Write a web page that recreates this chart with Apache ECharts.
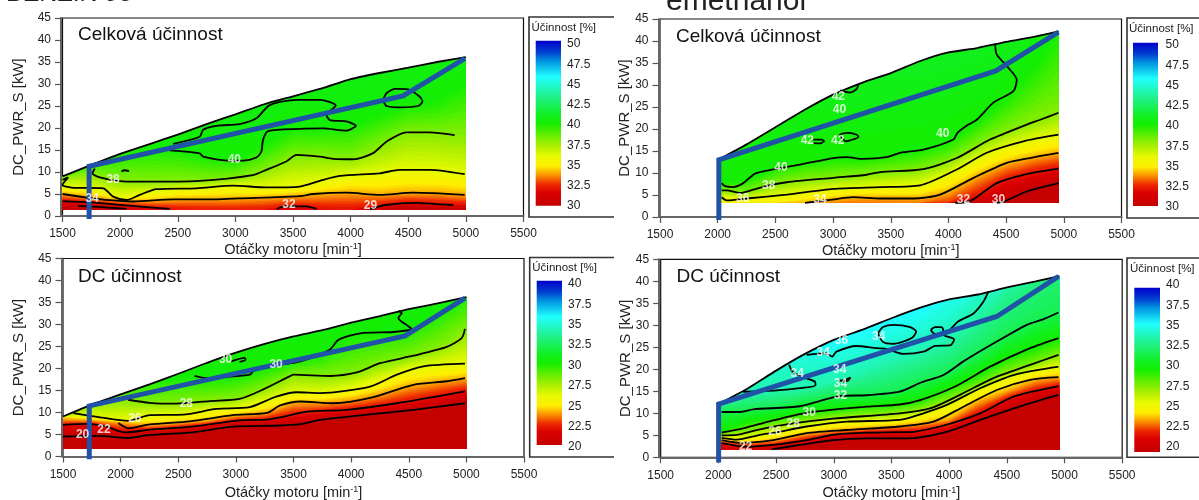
<!DOCTYPE html>
<html><head><meta charset="utf-8">
<style>html,body{margin:0;padding:0;background:#fff}#c{width:1199px;height:500px}</style>
<script src="https://cdn.jsdelivr.net/npm/echarts@6/dist/echarts.min.js"></script>
</head><body><div id="c"></div>
<script>
// ---------- shared tick values ----------
const rpmTicks = [1500,2000,2500,3000,3500,4000,4500,5000,5500];
const powerTicks = [0,5,10,15,20,25,30,35,40,45];
const title1 = 'Celková účinnost', title2 = 'DC účinnost';

// ---------- top-left: total efficiency, gasoline ----------
const tlRpm = [1500,1750,2000,2250,2500,2750,3000,3250,3500,3750,4000,4250,4500,4750,5000];
const tlEnvelope = [9,11.6,14.1,16.3,18.5,20.9,23.1,25.4,27.2,29,31.1,32.5,33.7,35,36.1];
const tlLevels = [30,32,34,36,38,40,42];
const tlFill30 = [1.9,1.4,0.8,0.4,0,0,0,0,0.7,0.2,0,0.8,1.8,1.5,1.6];
const tlFill32 = [3.4,2.9,2.3,1.9,1.5,1.2,1.2,1.3,2.2,1.7,1.5,2.3,3,2.7,2.5];
const tlFill34 = [5,4.4,3.6,3.4,3.7,3.9,3.9,4.2,4.5,4.9,5.3,4.9,5.2,5.2,4.8];
const tlFill36 = [6.8,6.4,4.3,5.2,6.2,6.4,6.9,6.5,6.9,7.7,9.2,9.7,10.5,10.3,9.5];
const tlFill38 = [9,9.7,8.1,7.8,7.9,8,8.6,10.4,13.5,13.5,13,16,19,18.7,18.3];
const tlFill40 = [11,13,14.5,15.5,15,13.5,12.6,16,19.8,19.9,20.5,23,25,26,30];
const tlFill42 = [60,60,60,60,60,60,60,60,60,60,60,60,60,60,60];
const tlBlue = [[1731,-0.7],[1731,11.3],[4455,27.3],[4993,35.8]];
const tlLines = [
 [[1500,8.2],[1549,8.8],[1500,7.05],[1578,6.44],[1853,6.3],[1939,4.4],[2055,3.64],[2170,4.8],[2315,6.1],[2662,6.3],[2980,6.9],[3269,6.5],[3559,6.7],[3733,8],[3906,9.1],[4253,9.7],[4426,10.5],[4686,10.5],[4990,9.5]],
 [[1500,5],[1708,4.2],[1910,3.6],[2113,3.3],[2459,3.8],[2835,3.8],[3037,4],[3558,4.5],[3675,5],[3964,5.3],[4253,4.8],[4542,5.3],[4990,4.8]],
 [[1500,3.4],[1750,3.1],[2055,2.4],[2430,1.6]],
 [[1636,2.3],[1850,2],[2055,1.6]],
 [[3361,1.6],[3420,2.2],[3500,2.2],[3620,2.2],[3704,1.6]],
 [[4166,1.5],[4300,2.5],[4571,3],[4750,2.7],[4889,2.5]],
 [[1780,10.8],[1760,9.7],[1824,8.8],[1983,8],[2170,7.8],[2690,8],[3153,9.3],[3269,10.5],[3442,12.4],[3530,13.9],[3732,13.5],[3848,13],[4022,12.9],[4195,14.3],[4311,16.9],[4484,19],[4686,19],[4903,18.4]],
 [[2011,10.1],[2040,10.4],[2078,10.2]],
 [[2430,14.9],[2690,14.25],[2720,13.5],[2950,12.6],[3066,12.6],[3182,13.3],[3225,14.6],[3240,17.3],[3283,19.3],[3558,19.8],[3762,19.9],[3964,19.4],[4045,20.5],[3964,21.5],[3820,21.8],[3791,22.95],[3871,25.1],[3733,26.4],[3530,26.4],[3298,25.2],[3182,22.2],[3037,20.9],[2835,20.5],[2720,19.6],[2690,18],[2460,16.4]],
 [[4282,26.4],[4311,27.9],[4383,28.9],[4499,28.8],[4600,27.1],[4623,26],[4585,25],[4426,24.7],[4311,25],[4282,26.4]]
];
const tlLabels = [[2991,12.7,'40'],[1939,8.2,'38'],[1757,4,'34'],[3465,2.5,'32'],[4172,2.4,'29']];

// ---------- top-right: total efficiency, e-methanol ----------
const trRpm = [2006,2250,2500,2750,3000,3250,3500,3750,4000,4250,4500,4750,4954];
const trEnvelope = [13,16.5,20.4,24.3,27.8,30.5,32.7,35.4,37.4,38.4,39.8,41,42.2];
const trLevels = [30,32,34,36,38,40,42];
const trFill30 = [0,0,0,0,0,0,0,0,0,2,3.4,6,7.7];
const trFill32 = [0,0,0,0,0,0,0,0,2,4.6,8.3,10,11];
const trFill34 = [1,1.5,2,3.1,3.9,4.5,4.3,4.2,5.5,9.2,12,13.6,14.55];
const trFill36 = [4.5,4.2,4.8,5.5,6.4,6.7,7,7.2,9.8,13.2,16,17.5,18.7];
const trFill38 = [6.1,5.5,7.5,8.5,8.9,9.5,10.1,10.8,12.6,16.5,19.5,22,23.7];
const trFill40 = [7.7,8.5,11.3,12.5,13.4,13.2,14.2,15.1,17,21.5,27,34,42];
const trFill42 = [60,60,60,60,60,60,60,60,60,60,60,70,80];
const trBlue = [[2010,-0.7],[2010,13],[4410,33.2],[4954,42]];
const trLines = [
 [[3061,28.8],[3147,28.3],[3205,29.1],[3220,30.3]],
 [[2829,17.6],[2902,17.6],[2922,17.2],[2887,16.75],[2829,16.8]],
 [[3104,17.2],[3061,18.7],[3133,19.1],[3205,18.7],[3220,18.2],[3147,17.4],[3104,17.2]],
 [[2035,7.7],[2064,7],[2136,6.8],[2222,7.7],[2324,9.85],[2483,10.8],[2714,11.9],[3003,13.4],[3118,13.6],[3263,13.2],[3465,13.6],[3581,14.6],[3783,15.3],[4043,17.6],[4078,19.1],[4173,21],[4246,22.1],[4390,26],[4563,28.6],[4592,31.2],[4520,33.9],[4419,36.9],[4405,39.2]],
 [[2035,6.06],[2078,6.06],[2194,5.46],[2309,6.2],[2425,7.1],[2598,7.9],[3003,8.9],[3292,9.6],[3408,10.2],[3783,10.9],[4072,13.4],[4361,17.6],[4679,21],[4795,22.1],[4954,23.7]],
 [[2035,4.5],[2078,3.8],[2251,4.2],[2598,5.1],[3003,6.4],[3408,6.8],[3754,7.2],[4072,10.8],[4332,14.6],[4650,17.2],[4954,18.7]],
 [[2757,3.2],[2974,3.9],[3176,4.5],[3408,4.2],[3696,4.2],[3928,5.1],[4217,8.9],[4506,12.3],[4708,13.4],[4954,14.55]],
 [[4058,3.2],[4188,3.6],[4419,7.7],[4650,9.6],[4954,11]],
 [[4419,3.2],[4491,3.6],[4679,5.8],[4954,7.7]]
];
const trLabels = [[3046,27.3,'42'],[3055,24.4,'40'],[2777,17.4,'42'],[3040,17.4,'42'],[2549,11.1,'40'],[2442,7.2,'38'],[2217,4.2,'36'],[2887,3.9,'34'],[3951,19,'40'],[4130,3.9,'32'],[4433,3.9,'30']];

// ---------- bottom-left: DC efficiency, gasoline ----------
const blRpm = [1500,1750,2000,2250,2500,2750,3000,3250,3500,3750,4000,4250,4500,4750,5000];
const blEnvelope = [9.1,11.8,14.1,16.4,18.8,21.3,23.6,25.6,27.3,28.7,30.4,31.9,33.5,34.8,36.2];
const blLevels = [20,22,24,26,28,30,32];
const blFill20 = [4.55,4.7,4.3,4.9,5.3,5.7,6.9,7,7.2,8.1,9.2,9.9,10.4,11.2,12.1];
const blFill22 = [7.2,7.4,5.9,6.1,6.6,7.2,8,8.3,9.2,10,10.6,11.3,12.3,13.5,14.8];
const blFill24 = [8.5,8.2,7.7,7.1,7.6,8.1,9.3,9.9,12.2,12.3,12.9,14.2,16,17,17.8];
const blFill26 = [10.2,9,8.3,9.4,9.5,10.5,11,12.5,14.4,14.4,15.5,17.5,20,20.7,21.1];
const blFill28 = [13,12.5,12.9,12.2,12.1,12.8,13.3,15.7,18.6,18.3,19,21,22.5,24.7,29];
const blFill30 = [15.5,15.5,16,17.5,18,17.8,18.2,20,21.5,23.3,27.5,28.1,29,33,37];
const blFill32 = [60,60,60,60,60,60,60,60,60,60,60,60,60,60,60];
const blBlue = [[1728,-0.6],[1728,11.5],[4468,27.4],[4988,36]];
const blLines = [
 [[1500,4.55],[1820,4.7],[2051,4.2],[2253,4.9],[2628,5.5],[2974,6.8],[3384,7.05],[3558,7.35],[3731,8.3],[4136,9.5],[4540,10.6],[4988,12.1]],
 [[1500,7.2],[1705,7.4],[1878,6.8],[1993,5.7],[2051,5.5],[2253,6.1],[2628,6.8],[3032,8.2],[3269,8.4],[3384,8.9],[3616,10.2],[3962,10.6],[4396,12.1],[4988,14.8]],
 [[1980,7.6],[2065,6.4],[2253,7.3],[2600,8],[2974,9.4],[3269,9.9],[3384,11.6],[3558,12.5],[3847,12.1],[4165,13.3],[4540,16.3],[4829,17.1],[4988,17.8]],
 [[1590,9.85],[1820,8.9],[2065,8.1],[2253,9.4],[2541,9.5],[2830,10.8],[3119,11.2],[3350,13.6],[3529,14.6],[3731,14.4],[4165,15.9],[4396,18.6],[4627,20.5],[4988,21.1]],
 [[2065,12.9],[2253,12.2],[2484,12],[2772,12.6],[3032,13.1],[3234,15.2],[3465,18.2],[3500,18.6],[3818,18.3],[4049,19.1],[4251,21.2],[4540,22.9],[4829,24.9],[4959,26.9],[4988,29]],
 [[2642,18.3],[2743,17.8],[2974,18.2],[3119,18.6],[3147,19.3]],
 [[2960,21.6],[3075,22.4],[3084,22],[3032,21.5]],
 [[3436,21],[3558,21.6],[3702,22.9],[3818,24.3],[3890,26.5],[4078,28],[4367,28.3],[4526,29],[4497,29.6],[4410,31.5],[4439,32.6],[4410,33.1]]
];
const blLabels = [[2911,22,'30'],[3349,20.8,'30'],[2570,12.1,'28'],[2123,8.6,'26'],[1855,6.1,'22'],[1670,4.9,'20']];

// ---------- bottom-right: DC efficiency, e-methanol ----------
const brRpm = [2000,2250,2500,2750,3000,3250,3500,3750,4000,4250,4500,4750,4955];
const brEnvelope = [12.1,15.6,19.7,23.5,26.7,29,31.6,34,35.9,37,38.6,40,41.2];
const brLevels = [20,22,24,26,28,30,32,34,36,38];
const brFill20 = [0,0,1.8,2.9,3.9,4.3,4.3,4.3,5.9,8.3,10,12.6,14.2];
const brFill22 = [3.2,2.4,2.9,3.9,5.1,5.6,5.8,5.9,6.9,9.8,13.2,15,16.2];
const brFill24 = [3.9,3.3,3.9,5.3,6,6.6,7,7.7,8.6,12.6,15,17.6,18.2];
const brFill26 = [4.5,4.4,5.6,7,8.2,8.4,8.5,9.5,11.9,15.4,18,19.8,20.6];
const brFill28 = [5.1,6,7.5,8.3,9.3,9.8,10,11,13.2,16,19.4,21.2,23.3];
const brFill30 = [5.6,8,9,10.3,10.8,11.6,12,12.9,16,18.7,22.5,25,27.1];
const brFill32 = [10.3,10.7,11.4,12.9,13.9,14.1,14.7,17,19.1,23,27.5,31,32.9];
const brFill34 = [12.5,14.9,15.2,15.8,17.3,19.5,22,24,27,33,41,49,57];
const brFill36 = [60,60,40,32,29,31,33,36,42,52,62,70,78];
const brFill38 = [90,90,90,90,90,90,90,90,90,90,90,90,90];
const brBlue = [[2002,-1.2],[2002,12.1],[4413,32],[4948,41.1]];
const brLines = [
 [[2461,1.8],[2706,2.8],[2994,3.9],[3283,4.3],[3571,4.3],[3633,4.3],[3980,5.8],[4269,8.5],[4702,12.3],[4948,14.2]],
 [[2028,3.2],[2244,2.4],[2475,2.8],[2765,3.9],[2994,5.1],[3283,5.6],[3571,5.7],[3691,5.8],[3922,7],[4269,10],[4558,13.8],[4948,16.2]],
 [[2028,3.9],[2187,3.3],[2475,3.9],[2765,5.5],[3111,6.2],[3571,7],[3864,8.1],[4124,11.5],[4413,15.3],[4702,17.6],[4948,18.2]],
 [[2028,4.4],[2158,4],[2360,5.1],[2490,5.6],[2765,7],[3111,8.1],[3571,8.5],[3777,10],[3980,11.9],[4269,15.7],[4558,18.7],[4948,20.6]],
 [[2028,5],[2158,5.1],[2331,6.2],[2648,7.7],[2994,8.8],[3571,10],[3835,11.1],[4095,14.2],[4384,18],[4702,21],[4948,23.3]],
 [[2028,5.6],[2086,5.9],[2187,6.4],[2360,7.6],[2475,8.4],[2787,10.2],[3283,11.5],[3571,12],[3749,13],[4052,16.1],[4355,20.6],[4702,24.8],[4948,27.1]],
 [[2028,10.3],[2187,10.3],[2302,10.9],[2706,11.6],[3061,13.95],[3283,14.1],[3571,14.9],[3763,17.05],[3951,18.7],[4124,21.8],[4413,26.3],[4673,30.1],[4818,31.4],[4948,32.9]],
 [[4341,37.7],[4298,35.4],[4211,32.7],[4081,30.9],[3994,28.6],[3951,27.8],[4043,26.8],[4014,25.5],[3879,25.3],[3777,24],[3604,23.5],[3460,24.6],[3370,24.8],[3196,25.3],[3023,24],[2986,22.9],[2937,23.6],[2765,23.3]],
 [[3384,28.2],[3427,29.6],[3517,30.1],[3662,29.6],[3714,28.6],[3676,27.1],[3517,25.8],[3427,26.2],[3384,28.2]],
 [[3841,29],[3879,29.6],[3936,29.6],[3951,28.6],[3907,28],[3864,28.2],[3841,29]],
 [[2614,21],[2642,19.5],[2735,18.2],[2836,17.2],[2842,16.4],[2706,15.7],[2504,15.2],[2215,14.9]],
 [[3038,17.4],[3095,17.6],[3144,18.1],[3124,17.4],[3067,17.2]]
];
const brLabels = [[3067,26.5,'36'],[3390,27.4,'34'],[2908,23.8,'34'],[2683,19,'34'],[3052,19.9,'34'],[3058,16.7,'34'],[3058,14,'32'],[2787,10.2,'30'],[2648,7.7,'28'],[2490,5.8,'26'],[2236,2.4,'22']];

// ---------- colour scale (position on the bar -> colour) ----------
const scaleStops = [[0,'#c40000'],[0.08,'#dc0000'],[0.13,'#ee2a00'],[0.19,'#fb9a00'],[0.24,'#ffee00'],[0.3,'#e8fa00'],[0.37,'#a5ee00'],[0.5,'#14ee00'],[0.55,'#10f020'],[0.65,'#20f080'],[0.78,'#20ffff'],[0.88,'#0090e0'],[0.93,'#0040d0'],[1,'#0000cc']];

function hex(c){return [1,3,5].map(i=>parseInt(c.substr(i,2),16));}
function colorAt(t){
  t=Math.max(0,Math.min(1,t));
  for(let i=1;i<scaleStops.length;i++){
    if(t<=scaleStops[i][0]){
      const a=scaleStops[i-1],b=scaleStops[i],f=(t-a[0])/(b[0]-a[0]);
      const A=hex(a[1]),B=hex(b[1]);
      return 'rgb('+A.map((v,k)=>Math.round(v+(B[k]-v)*f)).join(',')+')';
    }
  }
  return scaleStops[scaleStops.length-1][1];
}

const panels = [
 {name:title1,rpm:tlRpm,env:tlEnvelope,levels:tlLevels,fills:[tlFill30,tlFill32,tlFill34,tlFill36,tlFill38,tlFill40,tlFill42],base:1.5,blue:tlBlue,lines:tlLines,labels:tlLabels,gap:25,ygap:35,
  box:[62.5,18,461,198],scale:[30,50],bar:[535.7,40.7,25.3,165],ticks:[561,44,162],legend:{x:529,top:17,bottom:217,right:614,tx:531.5,ty:28},tx:78,ty:35},
 {name:title1,rpm:trRpm,env:trEnvelope,levels:trLevels,fills:[trFill30,trFill32,trFill34,trFill36,trFill38,trFill40,trFill42],base:3.2,blue:trBlue,lines:trLines,labels:trLabels,gap:25,ygap:26,
  box:[660,19,461.5,198],scale:[30,50],bar:[1133,42.7,25,163.3],ticks:[1159.5,45,162],legend:{x:1127,top:18,bottom:218,right:1199,tx:1129,ty:29},tx:676,ty:37},
 {name:title2,rpm:blRpm,env:blEnvelope,levels:blLevels,fills:[blFill20,blFill22,blFill24,blFill26,blFill28,blFill30,blFill32],base:1.75,blue:blBlue,lines:blLines,labels:blLabels,gap:27,ygap:35,
  box:[63,258.5,461,198],scale:[20,40],bar:[536.7,280.7,25.3,164.3],ticks:[562,284,163],legend:{x:529.7,top:257.5,bottom:457,right:614,tx:532.3,ty:268},tx:78,ty:276.7},
 {name:title2,rpm:brRpm,env:brEnvelope,levels:brLevels,fills:[brFill20,brFill22,brFill24,brFill26,brFill28,brFill30,brFill32,brFill34,brFill36,brFill38],base:1.8,blue:brBlue,lines:brLines,labels:brLabels,gap:27,ygap:26,
  box:[660.7,259.3,461.5,198],scale:[20,40],bar:[1134.3,287.7,25.7,164.3],ticks:[1160,285,162],legend:{x:1127,top:258,bottom:457.3,right:1199,tx:1130,ty:269},tx:676.5,ty:277}
];

const font='"Liberation Sans",Arial,sans-serif';
const plain=v=>String(v);
const grid=[],xAxis=[],yAxis=[],series=[],graphic=[];

function fillRenderer(p){
  return function(params,api){
    const SUB=8, children=[], L=p.levels, lo=p.scale[0], hi=p.scale[1];
    const push=(ys,val)=>{
      const pts=[];
      p.rpm.forEach((r,k)=>pts.push(api.coord([r,Math.max(p.base,Math.min(ys[k],p.env[k]))])));
      for(let k=p.rpm.length-1;k>=0;k--)pts.push(api.coord([p.rpm[k],p.base]));
      children.push({type:'polygon',shape:{points:pts},silent:true,style:{fill:colorAt((val-lo)/(hi-lo))}});
    };
    for(let i=L.length-2;i>=0;i--){
      for(let s=SUB;s>=1;s--){
        const f=s/SUB, g=(s-0.5)/SUB;
        push(p.fills[i].map((v,k)=>v+(p.fills[i+1][k]-v)*f), L[i]+(L[i+1]-L[i])*g);
      }
    }
    push(p.fills[0],L[0]);
    return {type:'group',children};
  };
}

panels.forEach((p,idx)=>{
  const [l,t,w,h]=p.box;
  grid.push({left:l,top:t,width:w,height:h,outerBoundsMode:'none',containLabel:false,show:true,borderColor:'#111',borderWidth:1.2,backgroundColor:'#fff'});
  xAxis.push({type:'value',gridIndex:idx,min:rpmTicks[0],max:rpmTicks[rpmTicks.length-1],interval:500,offset:1.5,
    splitLine:{show:false},axisLine:{lineStyle:{color:'#666',width:2}},axisTick:{length:6,lineStyle:{color:'#555',width:1.2}},
    axisLabel:{color:'#222',fontFamily:font,fontSize:12,margin:10.5,showMinLabel:true,showMaxLabel:true,formatter:plain},
    name:'{a|Otáčky motoru [min}{b|-1}{a|]}',nameLocation:'middle',nameGap:p.gap,nameMoveOverlap:false,
    nameTextStyle:{rich:{a:{fontFamily:font,fontSize:14.5,color:'#222'},b:{fontFamily:font,fontSize:9,color:'#222',verticalAlign:'top'}}}});
  yAxis.push({type:'value',gridIndex:idx,min:powerTicks[0],max:powerTicks[powerTicks.length-1],interval:5,offset:1.5,
    splitLine:{show:false},axisLine:{lineStyle:{color:'#666',width:2}},axisTick:{length:6,lineStyle:{color:'#555',width:1.2}},
    axisLabel:{color:'#222',fontFamily:font,fontSize:12,margin:10,formatter:plain},
    name:'DC_PWR_S [kW]',nameLocation:'middle',nameGap:p.ygap,nameMoveOverlap:false,nameTextStyle:{fontFamily:font,fontSize:15,color:'#222'}});
  series.push({type:'custom',xAxisIndex:idx,yAxisIndex:idx,data:[[p.rpm[0],p.base]],renderItem:fillRenderer(p),silent:true,z:2,clip:true});
  series.push({type:'line',xAxisIndex:idx,yAxisIndex:idx,data:p.rpm.map((r,k)=>[r,p.env[k]]),showSymbol:false,symbol:'none',smooth:0.2,silent:true,z:3,lineStyle:{color:'#000',width:1.8}});
  p.lines.forEach(c=>series.push({type:'line',xAxisIndex:idx,yAxisIndex:idx,data:c,showSymbol:false,symbol:'none',smooth:0.25,silent:true,z:3,lineStyle:{color:'#000',width:1.8}}));
  series.push({type:'line',xAxisIndex:idx,yAxisIndex:idx,data:p.blue,showSymbol:false,symbol:'none',silent:true,clip:false,z:4,lineStyle:{color:'#2052a8',width:5,join:'miter'}});
  series.push({type:'scatter',xAxisIndex:idx,yAxisIndex:idx,data:p.labels,symbolSize:1,silent:true,z:5,itemStyle:{color:'rgba(0,0,0,0)'},
    label:{show:true,position:'inside',formatter:q=>q.value[2],color:'#fff',fontWeight:'bold',fontFamily:font,fontSize:12}});
  graphic.push({type:'text',silent:true,z:10,style:{x:p.tx,y:p.ty,text:p.name,font:'19px '+font,fill:'#111',verticalAlign:'middle'}});

  // colour-bar box and title
  const b=p.legend;
  graphic.push({type:'polyline',silent:true,z:1,shape:{points:[[b.right,b.top],[b.x,b.top],[b.x,b.bottom],[b.right,b.bottom]]},style:{stroke:'#333',lineWidth:1.6,fill:null}});
  graphic.push({type:'text',silent:true,z:10,style:{x:b.tx,y:b.ty,text:'Účinnost [%]',font:'11.5px '+font,fill:'#222',verticalAlign:'middle'}});
});

// colour bars (grids 4-7) and their tick labels (grids 8-11)
panels.forEach((p,idx)=>{
  const gi=4+idx, [bl,bt,bw,bh]=p.bar;
  grid.push({left:bl,top:bt,width:bw,height:bh,outerBoundsMode:'none'});
  xAxis.push({type:'value',gridIndex:gi,min:0,max:1,show:false});
  yAxis.push({type:'value',gridIndex:gi,min:p.scale[0],max:p.scale[1],show:false});
  series.push({type:'custom',xAxisIndex:gi,yAxisIndex:gi,data:[[0,p.scale[0],1,p.scale[1]]],silent:true,z:2,
    renderItem:(params,api)=>{
      const a=api.coord([api.value(0),api.value(3)]), c=api.coord([api.value(2),api.value(1)]);
      const stops=[];
      for(let i=scaleStops.length-1;i>=0;i--)stops.push({offset:1-scaleStops[i][0],color:scaleStops[i][1]});
      return {type:'rect',shape:{x:a[0],y:a[1],width:c[0]-a[0],height:c[1]-a[1]},style:{fill:new echarts.graphic.LinearGradient(0,0,0,1,stops)}};
    }});
});
panels.forEach((p,idx)=>{
  const gi=8+idx, [x,top,h]=p.ticks;
  grid.push({left:x-10,top:top,width:10,height:h,outerBoundsMode:'none'});
  xAxis.push({type:'value',gridIndex:gi,min:0,max:1,show:false});
  yAxis.push({type:'value',gridIndex:gi,position:'right',min:p.scale[0],max:p.scale[1],interval:2.5,
    axisLine:{show:false},axisTick:{show:false},splitLine:{show:false},
    axisLabel:{color:'#222',fontFamily:font,fontSize:12,margin:6,showMinLabel:true,showMaxLabel:true,formatter:plain}});
});

// clipped page headings above the charts
graphic.push({type:'text',silent:true,z:10,style:{x:6,y:-5.8,text:'BENZIN 98',font:'25px '+font,fill:'#222',verticalAlign:'middle'}});
graphic.push({type:'text',silent:true,z:10,style:{x:666,y:2,text:'emethanol',font:'30px '+font,fill:'#222',verticalAlign:'middle'}});

const chart=echarts.init(document.getElementById('c'),null,{renderer:'canvas',width:1199,height:500});
chart.setOption({animation:false,backgroundColor:'#fff',legend:{show:false},tooltip:{show:false},grid,xAxis,yAxis,series,graphic});
</script></body></html>
